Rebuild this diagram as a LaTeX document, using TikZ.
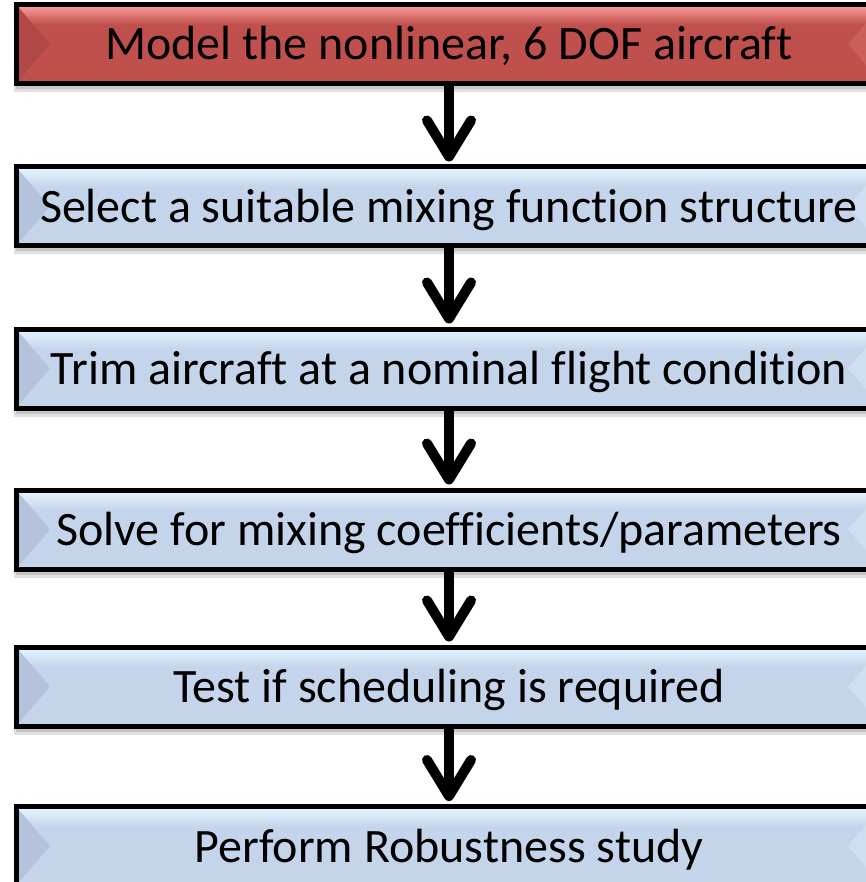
\documentclass[tikz,border=0pt]{standalone}
\usepackage{fontspec}
\setmainfont{Carlito}[Ligatures=CommonOff]
\usetikzlibrary{arrows.meta}
\definecolor{redbase}{HTML}{C0504D}
\definecolor{redlight}{HTML}{F79996}
\definecolor{reddark}{HTML}{B04845}
\definecolor{redright}{HTML}{CB5D5A}
\definecolor{bluebase}{HTML}{C4D5EB}
\definecolor{bluelight}{HTML}{E2F3FF}
\definecolor{bluedark}{HTML}{B2C3DB}
\definecolor{blueright}{HTML}{CFDEF1}
\newcommand{\bevelpic}[4]{%
  \fill[#1] (path picture bounding box.south west) rectangle (path picture bounding box.north east);
  \shade[top color=#2, bottom color=#1] ([yshift=-2pt]path picture bounding box.north west) rectangle ([yshift=-20pt]path picture bounding box.north east);
  \fill[#2] (path picture bounding box.north west) rectangle ([yshift=-2pt]path picture bounding box.north east);
  \fill[#3] (path picture bounding box.north west) -- ([xshift=34pt]path picture bounding box.west) -- (path picture bounding box.south west) -- cycle;
  \fill[#4] (path picture bounding box.north east) -- ([xshift=-34pt]path picture bounding box.east) -- (path picture bounding box.south east) -- cycle;
  \fill[#2!60!#1] (path picture bounding box.south west) rectangle ([yshift=2pt]path picture bounding box.south east);
}
\tikzset{
  x=1pt, y=1pt,
  bevelbox/.style={draw=black, line width=5pt, minimum width=866pt, minimum height=79pt,
    inner sep=0pt, text height=40pt, text depth=8pt,
    font=\fontsize{48}{56}\selectfont, text=black},
  redbox/.style={bevelbox, path picture={\bevelpic{redbase}{redlight}{reddark}{redright}}},
  bluebox/.style={bevelbox, path picture={\bevelpic{bluebase}{bluelight}{bluedark}{blueright}}},
  flowarrow/.style={line width=10pt, -{Straight Barb[length=36pt,width=44pt,round]}},
  boxshadow/.style={fill=black, opacity=0.12}
}
\begin{document}
\begin{tikzpicture}
\useasboundingbox (0,0) rectangle (865,-882);
% shadows
\foreach \cy in {44,206.5,368.5,529.5,686.5,846}{
  \fill[boxshadow] (14,-\cy-34) rectangle (884,-\cy-48);
  \fill[boxshadow] (16,-\cy-34) rectangle (884,-\cy-45);
}
\node[redbox]  (b1) at (449,-44)    {Model the nonlinear, 6 DOF aircraft};
\node[bluebox] (b2) at (449,-206.5) {Select a suitable mixing function structure};
\node[bluebox] (b3) at (449,-368.5) {Trim aircraft at a nominal flight condition};
\node[bluebox] (b4) at (449,-529.5) {Solve for mixing coefficients/parameters};
\node[bluebox] (b5) at (449,-686.5) {Test if scheduling is required};
\node[bluebox] (b6) at (449,-846)   {Perform Robustness study};
\draw[flowarrow] (b1.south) -- ([yshift=3pt]b2.north);
\draw[flowarrow] (b2.south) -- ([yshift=3pt]b3.north);
\draw[flowarrow] (b3.south) -- ([yshift=3pt]b4.north);
\draw[flowarrow] (b4.south) -- ([yshift=3pt]b5.north);
\draw[flowarrow] (b5.south) -- ([yshift=3pt]b6.north);
\end{tikzpicture}
\end{document}
